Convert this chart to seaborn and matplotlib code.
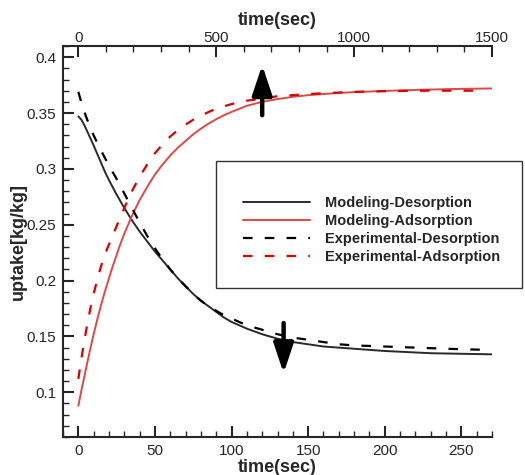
import numpy as np
import pandas as pd
import matplotlib
matplotlib.use("Agg")
import matplotlib.pyplot as plt
from matplotlib.patches import Rectangle
from matplotlib.ticker import MultipleLocator, FixedLocator, FormatStrFormatter
import seaborn as sns

# bottom axis: time(sec), 0..270 ; top axis spans 0..1500 over the same width
T_BOTTOM_MAX = 270
T_TOP_MAX = 1500
top_ticks = [0, 500, 1000, 1500]

t_mod_des = [0, 2, 4, 6, 8, 10, 12.5, 15, 17.5, 20, 25, 30, 35, 40, 45, 50, 55, 60, 65, 70, 75, 80,
             85, 90, 95, 100, 110, 120, 130, 140, 150, 160, 170, 180, 190, 200, 215, 230, 250, 270]
y_mod_des = [0.347, 0.344, 0.339, 0.333, 0.327, 0.321, 0.313, 0.305, 0.297, 0.290, 0.277, 0.265,
             0.254, 0.244, 0.235, 0.226, 0.218, 0.210, 0.202, 0.195, 0.188, 0.182, 0.177, 0.172,
             0.167, 0.163, 0.157, 0.152, 0.148, 0.145, 0.143, 0.141, 0.140, 0.139, 0.138, 0.137,
             0.136, 0.135, 0.1345, 0.134]

t_mod_ads = [0, 2.5, 5, 7.5, 10, 12.5, 15, 17.5, 20, 22.5, 25, 27.5, 30, 35, 40, 45, 50, 55, 60,
             65, 70, 75, 80, 85, 90, 95, 100, 110, 120, 130, 140, 150, 160, 170, 180, 200, 220,
             245, 270]
y_mod_ads = [0.088, 0.105, 0.121, 0.137, 0.152, 0.166, 0.179, 0.191, 0.202, 0.213, 0.223, 0.233,
             0.242, 0.258, 0.272, 0.284, 0.295, 0.304, 0.312, 0.319, 0.325, 0.331, 0.336, 0.3405,
             0.3445, 0.348, 0.351, 0.3565, 0.360, 0.3625, 0.3645, 0.366, 0.367, 0.368, 0.3687,
             0.3698, 0.3707, 0.3715, 0.372]

t_exp_des = [0, 2.5, 5, 7.5, 10, 15, 20, 25, 30, 35, 40, 45, 50, 55, 60, 65, 70, 75, 80, 85, 90,
             95, 100, 110, 120, 130, 140, 150, 160, 170, 180, 200, 220, 240, 266]
y_exp_des = [0.369, 0.357, 0.347, 0.338, 0.330, 0.316, 0.303, 0.291, 0.278, 0.265, 0.252, 0.240,
             0.229, 0.219, 0.210, 0.202, 0.195, 0.188, 0.182, 0.177, 0.173, 0.169, 0.166, 0.160,
             0.156, 0.152, 0.149, 0.147, 0.145, 0.143, 0.142, 0.141, 0.140, 0.139, 0.138]

t_exp_ads = [0, 2, 4, 6, 8, 10, 12, 14, 16, 19, 22, 26, 30, 35, 40, 45, 50, 55, 60, 67, 75, 82,
             90, 100, 110, 120, 130, 140, 150, 165, 180, 200, 220, 240, 265]
y_exp_ads = [0.112, 0.130, 0.147, 0.162, 0.176, 0.188, 0.199, 0.209, 0.218, 0.229, 0.239, 0.252,
             0.265, 0.280, 0.293, 0.304, 0.314, 0.322, 0.329, 0.337, 0.344, 0.349, 0.354, 0.358,
             0.361, 0.363, 0.365, 0.366, 0.367, 0.368, 0.369, 0.3695, 0.370, 0.370, 0.370]

labels = ["Modeling-Desorption", "Modeling-Adsorption",
          "Experimental-Desorption", "Experimental-Adsorption"]

sns.set_style("ticks")
plt.rcParams.update({
    "font.family": ["Liberation Sans", "DejaVu Sans"],
    "font.size": 11,
    "axes.linewidth": 1.5,
})

fig = plt.figure(figsize=(5.25, 4.75), dpi=100)
ax = fig.add_axes([63 / 525, 1 - 437 / 475, 429 / 525, 391 / 475])

dash = (0, (4.3, 5.5))
sns.lineplot(x=t_mod_des, y=y_mod_des, ax=ax, color="#2a2a2a", lw=1.4, label=labels[0])
sns.lineplot(x=t_mod_ads, y=y_mod_ads, ax=ax, color="#e04848", lw=1.4, label=labels[1])
sns.lineplot(x=t_exp_des, y=y_exp_des, ax=ax, color="black", lw=1.6, linestyle=dash, label=labels[2])
sns.lineplot(x=t_exp_ads, y=y_exp_ads, ax=ax, color="#dd0000", lw=1.6, linestyle=dash, label=labels[3])

ax.set_xlim(-10, T_BOTTOM_MAX)
ax.set_ylim(0.06, 0.41)

ax.xaxis.set_major_locator(MultipleLocator(50))
ax.xaxis.set_minor_locator(MultipleLocator(10))
ax.yaxis.set_major_locator(MultipleLocator(0.05))
ax.yaxis.set_minor_locator(MultipleLocator(0.01))
ax.yaxis.set_major_formatter(FormatStrFormatter("%g"))
ax.tick_params(which="both", direction="in", top=False, right=False, width=1.5, pad=5)
ax.tick_params(which="major", length=8)
ax.tick_params(which="minor", length=4.5, width=1.0)
ax.spines["right"].set_visible(False)
ax.spines["top"].set_visible(False)

ax.set_xlabel("time(sec)", fontsize=13, fontweight="bold", labelpad=1)
ax.set_ylabel("uptake[kg/kg]", fontsize=13, fontweight="bold", labelpad=0)

scale = T_TOP_MAX / T_BOTTOM_MAX
top = ax.secondary_xaxis("top", functions=(lambda x: x * scale, lambda x: x / scale))
top.xaxis.set_major_locator(FixedLocator(top_ticks))
top.xaxis.set_minor_locator(FixedLocator(list(range(0, T_TOP_MAX + 1, 100))))
top.tick_params(which="both", direction="in", width=1.5, pad=1)
top.tick_params(which="major", length=8)
top.tick_params(which="minor", length=4.5, width=1.0)
top.spines["top"].set_linewidth(1.5)
top.set_xlabel("time(sec)", fontsize=13, fontweight="bold", labelpad=4)

# direction arrows
arrow = dict(arrowstyle="-|>,head_length=0.9,head_width=0.3", color="black", lw=3.2,
             mutation_scale=20, shrinkA=0, shrinkB=0)
ax.annotate("", xy=(120, 0.393), xytext=(120, 0.348), arrowprops=arrow)
ax.annotate("", xy=(134, 0.117), xytext=(134, 0.162), arrowprops=arrow)

# legend with a box that reaches past the plot
fig.add_artist(Rectangle((216 / 525, 1 - 288 / 475), 306 / 525, 127 / 475,
                         transform=fig.transFigure, fill=False, edgecolor="#333333", lw=1.0))
leg = ax.legend(loc="upper left", bbox_to_anchor=(243 / 525, 1 - 196 / 475),
                bbox_transform=fig.transFigure, frameon=False, borderpad=0, borderaxespad=0,
                handlelength=4.6, handletextpad=1.0, labelspacing=0.27,
                prop={"weight": "bold", "size": 10.5})

fig.savefig("out.png", dpi=100)
